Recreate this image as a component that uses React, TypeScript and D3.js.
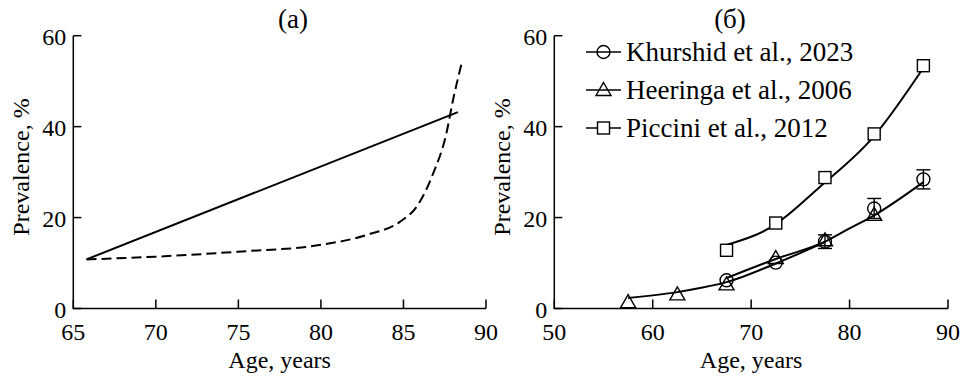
import React from "react";
import * as d3 from "d3";

// panel (a): two model curves
const solidAge = [65.8, 88.3];
const solidVal = [10.8, 43.2];
const dashAge = [65.8, 70, 75, 80, 82.8, 84.8, 85.8, 86.8, 87.6, 88.0, 88.5];
const dashVal = [10.8, 11.4, 12.5, 14.0, 16.2, 19.1, 22.4, 29.7, 38.5, 45.8, 53.6];

// panel (б): observed prevalence
const khurAge = [67.5, 72.5, 77.5, 82.5, 87.5];
const khurVal = [6.2, 10.1, 14.7, 22.0, 28.4];
const khurErr = [0, 0, 1.5, 2.2, 2.1];
const heerAge = [57.5, 62.5, 67.5, 72.5, 77.5, 82.5];
const heerVal = [1.4, 3.1, 5.3, 11.1, 15.0, 20.6];
const picAge = [67.5, 72.5, 77.5, 82.5, 87.5];
const picVal = [12.8, 18.8, 28.8, 38.4, 53.4];

// fitted curves
const khurFitAge = [67.5, 72.5, 77.5, 80, 82.5, 87.5];
const khurFitVal = [6.7, 10.9, 14.7, 17.6, 20.5, 27.8];
const heerFitAge = [57.5, 62.5, 64.8, 67.5, 72.5, 77.5];
const heerFitVal = [2.3, 3.6, 4.5, 5.8, 9.9, 14.6];
const picFitAge = [67.5, 72.1, 77.0, 82.4, 87.3];
const picFitVal = [14.0, 18.0, 26.8, 37.7, 52.3];

const legendLabels = ["Khurshid et al., 2023", "Heeringa et al., 2006", "Piccini et al., 2012"];
const yTicks = [0, 20, 40, 60];
const xTicksA = [65, 70, 75, 80, 85, 90];
const xTicksB = [50, 60, 70, 80, 90];

const font = "Liberation Serif";
const fs = 24;

const y = d3.scaleLinear().domain([0, 60]).range([308.5, 35.7]);
const xA = d3.scaleLinear().domain([65, 90]).range([73.3, 486]);
const xB = d3.scaleLinear().domain([50, 90]).range([554.3, 948]);

const zip = (a: number[], b: number[]) => a.map((v, i) => [v, b[i]] as [number, number]);

const Circle = ({ cx, cy }: { cx: number; cy: number }) => (
  <circle cx={cx} cy={cy} r={6.5} fill="white" fillOpacity={0} stroke="black" strokeWidth={1.4} />
);
const Tri = ({ cx, cy }: { cx: number; cy: number }) => (
  <path d={`M${cx},${cy - 7.5}L${cx + 7.5},${cy + 5.5}L${cx - 7.5},${cy + 5.5}Z`} fill="none" stroke="black" strokeWidth={1.4} />
);
const Sq = ({ cx, cy }: { cx: number; cy: number }) => (
  <rect x={cx - 6} y={cy - 6} width={12} height={12} fill="white" stroke="black" strokeWidth={1.4} />
);

const Axes = ({ x, ticks }: { x: d3.ScaleLinear<number, number>; ticks: number[] }) => {
  const [x0, x1] = x.range();
  return (
    <g>
      <path d={`M${x0},${y(60)}V${y(0)}H${x1}`} fill="none" stroke="black" strokeWidth={1.5} />
      {yTicks.map(t => (
        <g key={"y" + t}>
          <line x1={x0} x2={x0 + 8} y1={y(t)} y2={y(t)} stroke="black" strokeWidth={1.5} />
          <text x={x0 - 7} y={y(t) + 9} textAnchor="end" fontSize={fs} fontFamily={font}>{t}</text>
        </g>
      ))}
      {ticks.map(t => (
        <g key={"x" + t}>
          <line x1={x(t)} x2={x(t)} y1={y(0)} y2={y(0) - 9} stroke="black" strokeWidth={1.5} />
          <text x={x(t)} y={340} textAnchor="middle" fontSize={fs} fontFamily={font}>{t}</text>
        </g>
      ))}
      <text x={(x0 + x1) / 2} y={368} textAnchor="middle" fontSize={fs} fontFamily={font}>Age, years</text>
      <text transform={`translate(${x0 - 44},${167}) rotate(-90)`} textAnchor="middle" fontSize={fs} fontFamily={font}>Prevalence, %</text>
    </g>
  );
};

export default function App() {
  const lineA = d3.line<[number, number]>().x(d => xA(d[0])).y(d => y(d[1]));
  const lineDash = d3.line<[number, number]>().x(d => xA(d[0])).y(d => y(d[1])).curve(d3.curveMonotoneX);
  const lineB = d3.line<[number, number]>().x(d => xB(d[0])).y(d => y(d[1])).curve(d3.curveMonotoneX);

  return (
    <svg width={966} height={382} style={{ position: "absolute", left: 0, top: 0, background: "white" }}>
      <text x={293} y={28} textAnchor="middle" fontSize={27} fontFamily={font}>(a)</text>
      <text x={730} y={28} textAnchor="middle" fontSize={27} fontFamily={font}>(б)</text>

      <Axes x={xA} ticks={xTicksA} />
      <path d={lineA(zip(solidAge, solidVal)) || ""} fill="none" stroke="black" strokeWidth={2} />
      <path d={lineDash(zip(dashAge, dashVal)) || ""} fill="none" stroke="black" strokeWidth={2} strokeDasharray="10,5" />

      <Axes x={xB} ticks={xTicksB} />
      <path d={lineB(zip(heerFitAge, heerFitVal)) || ""} fill="none" stroke="black" strokeWidth={2} />
      <path d={lineB(zip(khurFitAge, khurFitVal)) || ""} fill="none" stroke="black" strokeWidth={2} />
      <path d={lineB(zip(picFitAge, picFitVal)) || ""} fill="none" stroke="black" strokeWidth={2} />

      {khurAge.map((a, i) => khurErr[i] > 0 && (
        <g key={"e" + i} stroke="black" strokeWidth={1.4}>
          <line x1={xB(a)} x2={xB(a)} y1={y(khurVal[i] - khurErr[i])} y2={y(khurVal[i] + khurErr[i])} />
          <line x1={xB(a) - 7} x2={xB(a) + 7} y1={y(khurVal[i] - khurErr[i])} y2={y(khurVal[i] - khurErr[i])} />
          <line x1={xB(a) - 7} x2={xB(a) + 7} y1={y(khurVal[i] + khurErr[i])} y2={y(khurVal[i] + khurErr[i])} />
        </g>
      ))}
      {heerAge.map((a, i) => <Tri key={"t" + i} cx={xB(a)} cy={y(heerVal[i])} />)}
      {khurAge.map((a, i) => <Circle key={"c" + i} cx={xB(a)} cy={y(khurVal[i])} />)}
      {picAge.map((a, i) => <Sq key={"s" + i} cx={xB(a)} cy={y(picVal[i])} />)}

      {legendLabels.map((l, i) => {
        const ly = 52 + i * 38;
        return (
          <g key={l}>
            <line x1={586} x2={621} y1={ly} y2={ly} stroke="black" strokeWidth={1.5} />
            {i === 0 && <Circle cx={603.5} cy={ly} />}
            {i === 1 && <Tri cx={603.5} cy={ly} />}
            {i === 2 && <Sq cx={603.5} cy={ly} />}
            <text x={626} y={ly + 9} fontSize={27} fontFamily={font}>{l}</text>
          </g>
        );
      })}
    </svg>
  );
}
